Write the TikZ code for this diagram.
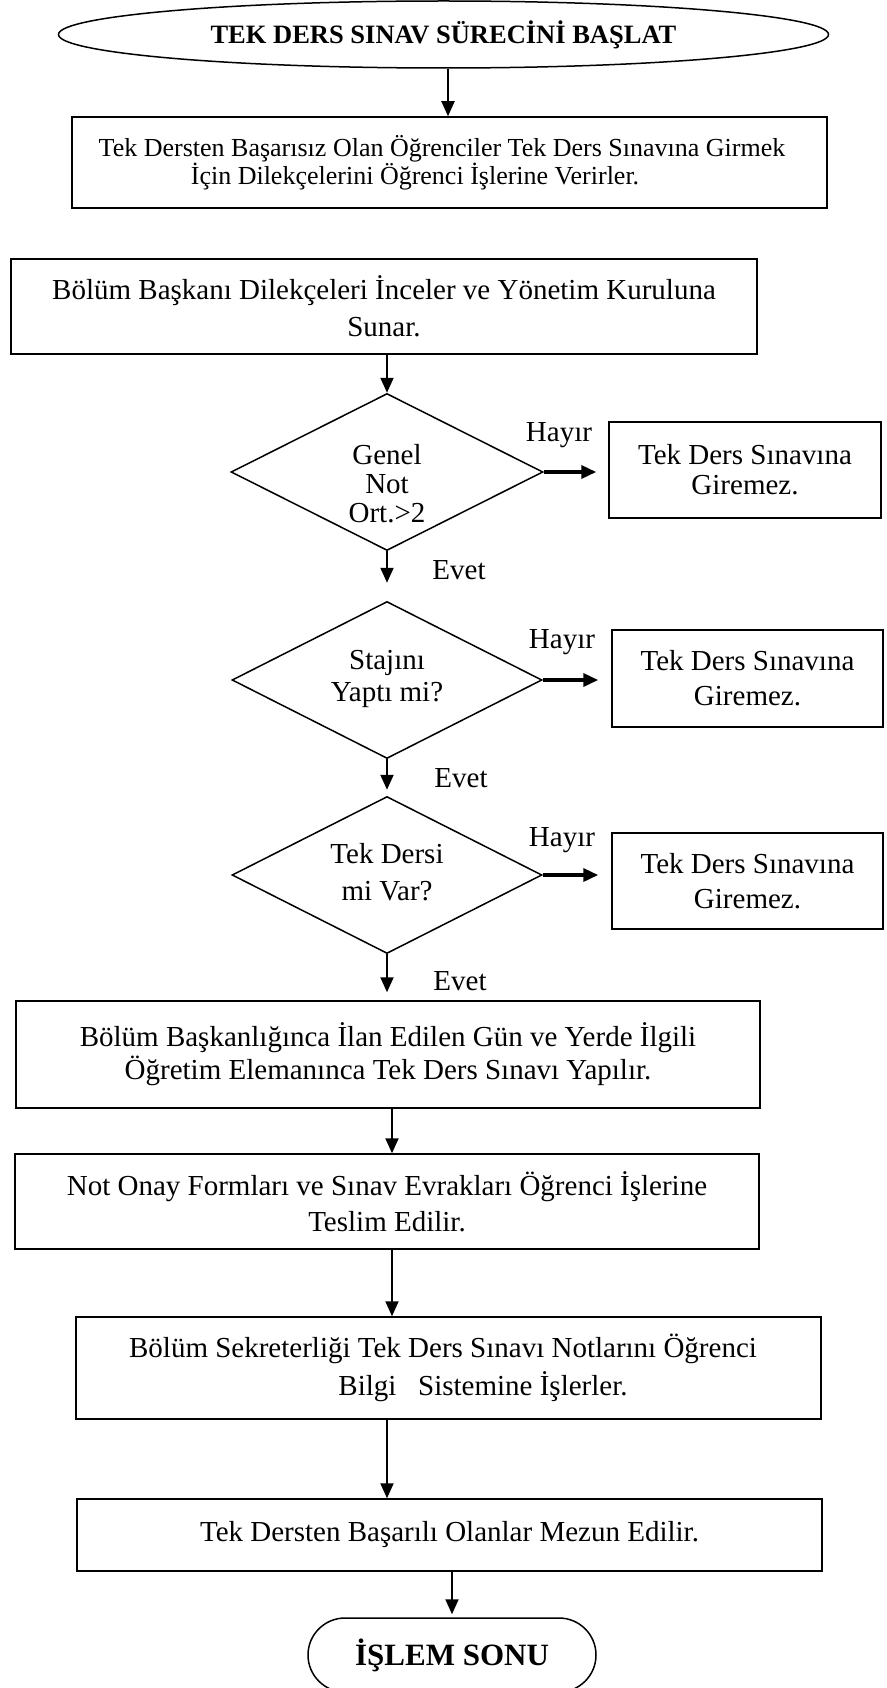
\documentclass[tikz,border=0pt]{standalone}
\usepackage{fontspec}
\setmainfont{Liberation Serif}
\usetikzlibrary{shapes.geometric,arrows.meta}
\newcommand\bodyfont[1]{\fontsize{29}{#1}\selectfont}

\tikzset{
  procbox/.style={draw, line width=1.5pt, rectangle, align=center, inner sep=0pt},
  decision/.style={draw, diamond, line width=1.5pt, inner sep=0pt},
  dtext/.style={align=center, inner sep=0pt},
  terminal/.style={draw, line width=1.5pt, inner sep=0pt, font=\bfseries},
  flow/.style={line width=2pt, -{Triangle[length=15pt,width=13pt]}},
  sideflow/.style={line width=3.5pt, -{Triangle[length=15pt,width=13pt]}},
  lbl/.style={inner sep=0pt, font=\bodyfont{34}},
}

\begin{document}
\begin{tikzpicture}[x=1pt, y=-1pt]
\useasboundingbox (0,0) rectangle (886,1688);

% start of the process
\node[terminal, ellipse, minimum width=770pt, minimum height=67pt,
      font=\fontsize{26.5}{30}\selectfont\bfseries] (start) at (443.5,34.5)
  {TEK DERS SINAV SÜRECİNİ BAŞLAT};

% application and review
\node[procbox, minimum width=755pt, minimum height=91pt, font=\fontsize{26}{28}\selectfont] (box1) at (449.5,162.5)
  {Tek Dersten Başarısız Olan Öğrenciler Tek Ders Sınavına Girmek\hspace*{15pt}\\
   İçin Dilekçelerini Öğrenci İşlerine Verirler.\hspace*{69pt}};

\node[procbox, minimum width=746pt, minimum height=95pt, font=\bodyfont{37}] (box2) at (384,306.5)
  {Bölüm Başkanı Dilekçeleri İnceler ve Yönetim Kuruluna\\Sunar.};

% eligibility checks
\node[decision, minimum width=312pt, minimum height=157pt] (d1) at (387,472) {};
\node[dtext, font=\bodyfont{29}] (d1t) at (387,484) {Genel\\Not\\Ort.>2};

\node[decision, minimum width=310pt, minimum height=157pt] (d2) at (387,680) {};
\node[dtext, font=\bodyfont{32}] (d2t) at (387,679) {Stajını\\Yaptı mi?};

\node[decision, minimum width=310pt, minimum height=157pt] (d3) at (387,875) {};
\node[dtext, font=\bodyfont{37}] (d3t) at (387,872) {Tek Dersi\\mi Var?};

% rejections
\node[procbox, minimum width=272pt, minimum height=96pt, font=\bodyfont{30}] (rb1) at (745,470)
  {Tek Ders Sınavına\\Giremez.};
\node[procbox, minimum width=271pt, minimum height=97pt, font=\bodyfont{35}] (rb2) at (747.5,678.5)
  {Tek Ders Sınavına\\Giremez.};
\node[procbox, minimum width=271pt, minimum height=96pt, font=\bodyfont{35}] (rb3) at (747.5,881)
  {Tek Ders Sınavına\\Giremez.};

% exam and grading
\node[procbox, minimum width=744pt, minimum height=107pt, font=\bodyfont{33}] (box3) at (388,1054.5)
  {Bölüm Başkanlığınca İlan Edilen Gün ve Yerde İlgili\\
   Öğretim Elemanınca Tek Ders Sınavı Yapılır.};

\node[procbox, minimum width=744pt, minimum height=95pt, font=\bodyfont{36}] (box4) at (387,1201.5)
  {Not Onay Formları ve Sınav Evrakları Öğrenci İşlerine\\Teslim Edilir.};

\node[procbox, minimum width=745pt, minimum height=102pt, font=\bodyfont{38}] (box5) at (448.5,1368)
  {Bölüm Sekreterliği Tek Ders Sınavı Notlarını Öğrenci\hspace*{11pt}\\
   \hspace*{69pt}Bilgi\hspace{0.5em} Sistemine İşlerler.};

\node[procbox, minimum width=745pt, minimum height=72pt, font=\bodyfont{34}] (box6) at (449.5,1535)
  {Tek Dersten Başarılı Olanlar Mezun Edilir.};

% end of the process
\node[terminal, rectangle, rounded corners=37pt, minimum width=288pt, minimum height=74pt,
      font=\fontsize{31}{34}\selectfont\bfseries] (stop) at (452,1655) {İŞLEM SONU};

% branch labels
\node[lbl] (h1) at (559,435) {Hayır};
\node[lbl] (h2) at (562,642) {Hayır};
\node[lbl] (h3) at (562,840) {Hayır};
\node[lbl] (e1) at (459,570) {Evet};
\node[lbl] (e2) at (461,778) {Evet};
\node[lbl] (e3) at (460,981) {Evet};

% connectors
\draw[flow] ([xshift=4.5pt]start.south) -- ([xshift=4.5pt]start.south |- box1.north);
\draw[flow] (box2.south -| d1.north) -- (d1.north);
\draw[flow, shorten >=18pt] (d1.south) -- (d1.south |- d2.north);
\draw[flow, shorten >=6pt] (d2.south) -- (d2.south |- d3.north);
\draw[flow, shorten >=8pt] (d3.south) -- (d3.south |- box3.north);
\draw[flow] ([xshift=4pt]box3.south) -- ([xshift=4pt]box3.south |- box4.north);
\draw[flow] ([xshift=5pt]box4.south) -- ([xshift=5pt]box4.south |- box5.north);
\draw[flow] (box5.south -| box4.south) -- (box6.north -| box4.south);
\draw[flow, shorten >=3pt] (box6.south -| stop.north) -- (stop.north);

\draw[sideflow, shorten >=12pt] (d1.east) -- (d1.east -| rb1.west);
\draw[sideflow, shorten >=13pt] (d2.east) -- (d2.east -| rb2.west);
\draw[sideflow, shorten >=13pt] (d3.east) -- (d3.east -| rb3.west);
\end{tikzpicture}
\end{document}
